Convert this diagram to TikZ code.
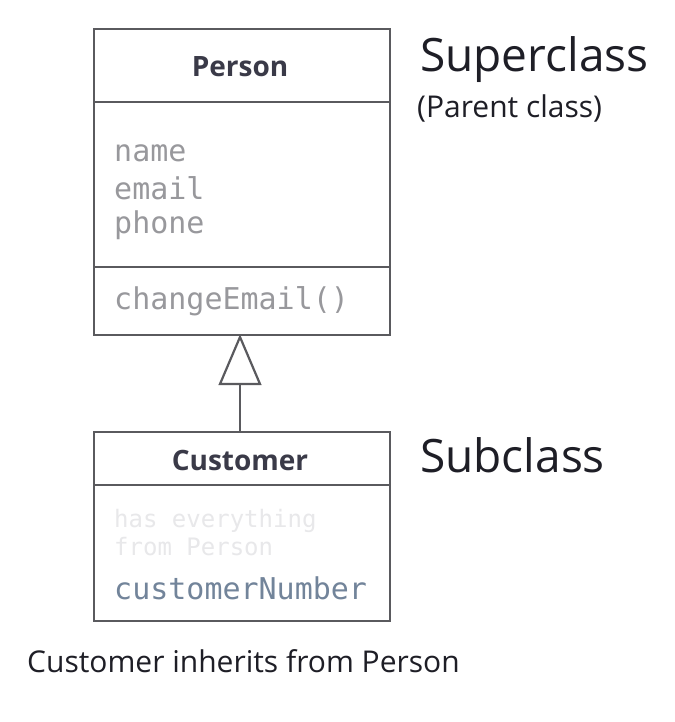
\documentclass[tikz,border=0pt]{standalone}
\usepackage{fontspec}
\setmainfont{Open Sans}
\setmonofont{DejaVu Sans Mono}
\definecolor{boxline}{HTML}{5A5A5E}
\definecolor{titletext}{HTML}{3A3A48}
\definecolor{attrtext}{HTML}{98989C}
\definecolor{fainttext}{HTML}{E8E8EA}
\definecolor{numtext}{HTML}{72849A}
\definecolor{labeltext}{HTML}{1E1E26}
\tikzset{
  box/.style={draw=boxline, line width=2.4pt},
  sep/.style={draw=boxline, line width=2pt},
  ctitle/.style={font=\fontsize{28}{32}\selectfont\bfseries, text=titletext},
  attr/.style={font=\fontsize{30}{34}\ttfamily, text=attrtext, anchor=west, inner sep=0pt},
  faint/.style={font=\fontsize{24}{28}\ttfamily, text=fainttext, anchor=west, inner sep=0pt},
  biglabel/.style={font=\fontsize{46}{50}\selectfont, text=labeltext, anchor=west, inner sep=0pt},
  smalllabel/.style={font=\fontsize{30}{33}\selectfont, text=labeltext, anchor=west, inner sep=0pt},
}
\begin{document}
\begin{tikzpicture}[x=1pt,y=-1pt]
\useasboundingbox (0,0) rectangle (674,722);
\fill[white] (0,0) rectangle (674,722);
% Person class
\draw[box] (94,29) rectangle (390,335);
\draw[sep] (94,102) -- (390,102);
\draw[sep] (94,267) -- (390,267);
\node[ctitle] (person) at (240,67) {Person};
\node[attr] (a1) at (114,153) {name};
\node[attr] (a2) at (114,188) {email};
\node[attr] (a3) at (114,225) {phone};
\node[attr] (m1) at (114,301) {changeEmail()};
% Customer class
\draw[box] (94,432) rectangle (390,621);
\draw[sep] (94,485) -- (390,485);
\node[ctitle] (customer) at (240,460) {Customer};
\node[faint] (f1) at (114,521) {has everything};
\node[faint] (f2) at (114,547) {from Person};
\node[attr, text=numtext] (c1) at (114,588) {customerNumber};
% inheritance arrow
\coordinate (apex) at (240,337);
\coordinate (bl) at (220,384);
\coordinate (br) at (260,384);
\coordinate (bm) at (240,384);
\coordinate (cu) at (240,432);
\draw[boxline, line width=2.2pt, fill=white, line join=miter] (apex) -- (br) -- (bl) -- cycle;
\draw[boxline, line width=2.2pt] (bm) -- (cu);
% labels
\node[biglabel] (sup) at (420,60) {Superclass};
\node[smalllabel] (par) at (417,108) {(Parent class)};
\node[biglabel] (sub) at (420,455) {Subclass};
\node[smalllabel] (foot) at (27,661) {Customer inherits from Person};
\end{tikzpicture}
\end{document}
